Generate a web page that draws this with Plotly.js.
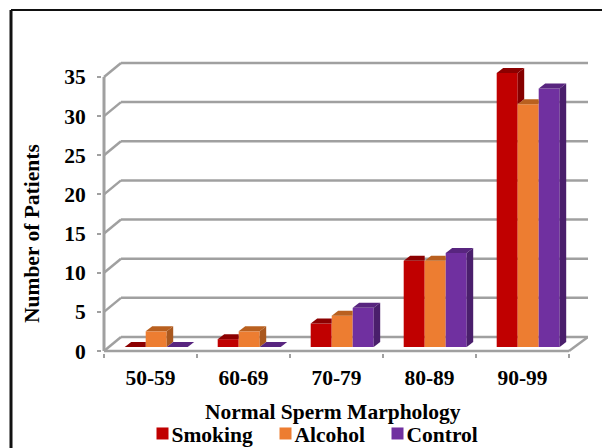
<!DOCTYPE html>
<html>
<head>
<meta charset="utf-8">
<script src="https://cdn.plot.ly/plotly-3.0.1.min.js"></script>
<style>html,body{margin:0;padding:0;background:#fff}#chart{width:602px;height:448px}</style>
</head>
<body>
<div id="chart"></div>
<script>
var categories = ["50-59", "60-69", "70-79", "80-89", "90-99"];
var smoking = [0, 1, 3, 11, 35];
var alcohol = [2, 2, 4, 11, 31];
var control = [0, 0, 5, 12, 33];
var seriesNames = ["Smoking", "Alcohol", "Control"];
var frontColors = ["#c00000", "#ed7d31", "#7030a0"];
var topColors = ["#8c0000", "#b9601f", "#58257f"];
var sideColors = ["#860000", "#a9581f", "#4a1f6c"];
var yTicks = [0, 5, 10, 15, 20, 25, 30, 35];
var yTitle = "Number of Patients";
var xTitle = "Normal Sperm Marphology";

var L = 102, R = 588, B = 353, T = 60, W = 602, H = 448;
var pxX = 93, pxY = 7.83;
var xMin = -2 / pxX, xMax = (R - 104) / pxX, yMin = -2 / pxY, yMax = (351 - T) / pxY;
var wallDx = 17 / pxX, wallDy = 14 / pxY;
var barDx = 6.5 / pxX, barDy = 5 / pxY;
var barW = 21 / pxX, lift = 4 / pxY, shift = 5.7 / pxX;
var gridColor = "#a0a0a0";
var font = "'Liberation Serif','Times New Roman',serif";
var fontSize = 21.5;
var series = [smoking, alcohol, control];

var traces = [], overlays = [];
series.forEach(function (vals, s) {
  var xs = vals.map(function (_, c) { return c + 0.5 + shift + (s - 1) * barW; });
  traces.push({
    type: "bar", name: seriesNames[s], x: xs, y: vals, base: lift, width: barW,
    marker: {color: frontColors[s], line: {width: 0}},
    customdata: categories, hovertemplate: "%{customdata}: %{y}<extra>" + seriesNames[s] + "</extra>"
  });
  vals.forEach(function (v, c) {
    var x0 = xs[c] - barW / 2, x1 = xs[c] + barW / 2;
    var next = s < 2 ? series[s + 1][c] : null;
    var y = v + lift;
    var taller = next !== null && next >= v;
    overlays.push({
      type: "scatter", mode: "lines", fill: "toself", fillcolor: topColors[s],
      line: {width: 0}, showlegend: false, hoverinfo: "skip",
      x: [x0, x1, taller ? x1 : x1 + barDx, x0 + barDx, x0],
      y: [y, y, y + barDy, y + barDy, y]
    });
    if (!taller && (next === null ? v > 0 : true)) {
      var low = (next === null ? 0 : next) + lift;
      overlays.push({
        type: "scatter", mode: "lines", fill: "toself", fillcolor: sideColors[s],
        line: {width: 0}, showlegend: false, hoverinfo: "skip",
        x: [x1, x1, x1 + barDx, x1 + barDx, x1],
        y: [low, y, y + barDy, low + barDy, low]
      });
    }
  });
});

function seg(x0, y0, x1, y1, w) {
  return {type: "line", layer: "below", xref: "x", yref: "y", x0: x0, y0: y0, x1: x1, y1: y1,
          line: {color: gridColor, width: w || 2.5}};
}
var shapes = [];
yTicks.forEach(function (v) {
  shapes.push(seg(0, v, wallDx, v + wallDy));
  shapes.push(seg(wallDx, v + wallDy, xMax, v + wallDy));
});
shapes.push(seg(0, 0, categories.length, 0));
shapes.push(seg(categories.length, 0, xMax, wallDy));
shapes.push(seg(0, 0, 0, yTicks[yTicks.length - 1], 3));
var px = function (p) { return (p - L) / (R - L); };
var py = function (p) { return (B - p) / (B - T); };
shapes.push({type: "line", xref: "paper", yref: "paper", x0: px(11), y0: py(10), x1: px(602), y1: py(10), line: {color: "#111", width: 2}});
shapes.push({type: "line", xref: "paper", yref: "paper", x0: px(11), y0: py(10), x1: px(11), y1: py(448), line: {color: "#111", width: 3}});

var layout = {
  width: W, height: H, paper_bgcolor: "#fff", plot_bgcolor: "#fff",
  margin: {l: L, r: W - R, t: T, b: H - B, pad: 0, autoexpand: false},
  barmode: "overlay", showlegend: true,
  font: {family: font, color: "#000", size: fontSize},
  xaxis: {
    range: [xMin, xMax], tickmode: "array",
    tickvals: categories.map(function (_, i) { return i + 0.5; }), ticktext: categories,
    ticks: "", showgrid: false, zeroline: false, showline: false, fixedrange: true,
    tickfont: {family: font, size: fontSize, weight: "bold", color: "#000"}, ticklabelstandoff: 9,
    minor: {tickmode: "array", tickvals: [0, 1, 2, 3, 4, 5], ticks: "outside", ticklen: 4, tickwidth: 1.5, tickcolor: gridColor, showgrid: false}
  },
  yaxis: {
    range: [yMin, yMax], tickmode: "array", tickvals: yTicks, ticks: "outside", ticklen: 4, tickwidth: 1.5,
    tickcolor: gridColor, showgrid: false, zeroline: false, showline: false, fixedrange: true,
    tickfont: {family: font, size: fontSize, weight: "bold", color: "#000"}, ticklabelstandoff: 7
  },
  shapes: shapes,
  annotations: [
    {xref: "paper", yref: "paper", x: px(333), y: py(412), showarrow: false, xanchor: "center", yanchor: "middle",
     text: "<b>" + xTitle + "</b>", font: {family: font, size: fontSize, color: "#000"}},
    {xref: "paper", yref: "paper", x: px(32), y: py(234), showarrow: false, xanchor: "center", yanchor: "middle", textangle: -90,
     text: "<b>" + yTitle + "</b>", font: {family: font, size: fontSize, color: "#000"}}
  ],
  legend: {
    orientation: "h", xref: "paper", yref: "paper", x: px(141.5), y: py(413), xanchor: "left", yanchor: "top",
    font: {family: font, size: fontSize, weight: "bold", color: "#000"}, bgcolor: "rgba(0,0,0,0)", borderwidth: 0,
    indentation: -10, traceorder: "normal", itemclick: false, itemdoubleclick: false
  }
};
function nudge(el, dx) {
  var m = /translate\(\s*([-\d.]+)[ ,]+([-\d.]+)\s*\)/.exec(el.getAttribute("transform") || "translate(0,0)");
  el.setAttribute("transform", "translate(" + (parseFloat(m[1]) + dx) + "," + m[2] + ")");
}
Plotly.newPlot("chart", traces.concat(overlays), layout, {displayModeBar: false, responsive: false}).then(function (gd) {
  var entryShift = [0, 6.5, 13];
  gd.querySelectorAll(".legend .scrollbox").forEach(function (n) { n.removeAttribute("clip-path"); n.style.clipPath = "none"; });
  gd.querySelectorAll(".legend .traces").forEach(function (t, i) {
    nudge(t, entryShift[i]);
    nudge(t.querySelector(".layers"), 11);
  });
});
</script>
</body>
</html>
